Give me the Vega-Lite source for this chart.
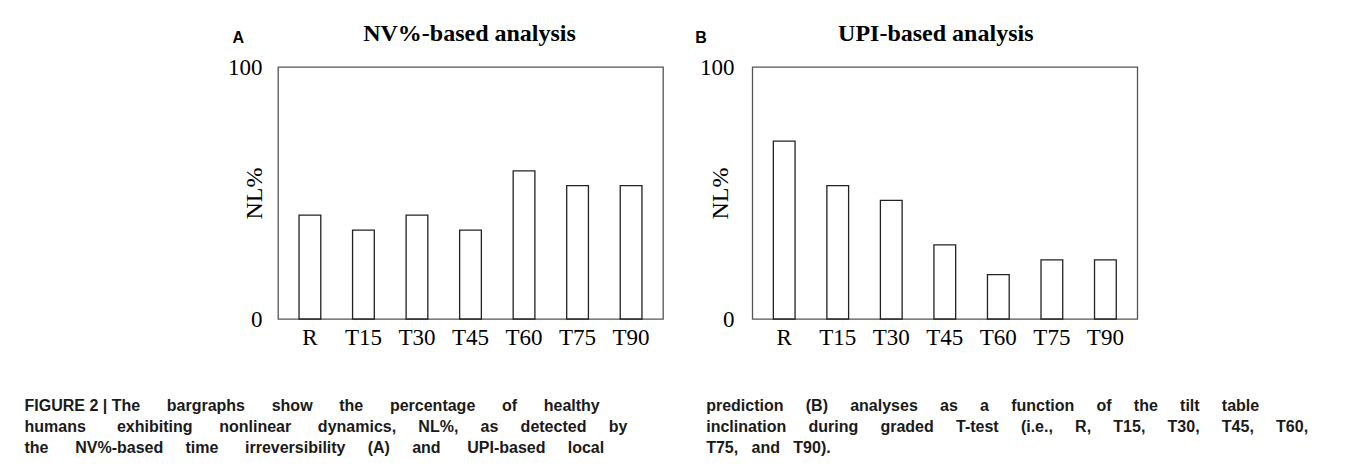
{
  "$schema": "https://vega.github.io/schema/vega-lite/v6.json",
  "padding": {"left": 23, "top": 20, "right": 5, "bottom": 5},
  "background": "white",
  "datasets": {
    "A": [
      {"stage": "R", "value": 41.2},
      {"stage": "T15", "value": 35.3},
      {"stage": "T30", "value": 41.2},
      {"stage": "T45", "value": 35.3},
      {"stage": "T60", "value": 58.8},
      {"stage": "T75", "value": 52.9},
      {"stage": "T90", "value": 52.9}
    ],
    "B": [
      {"stage": "R", "value": 70.6},
      {"stage": "T15", "value": 52.9},
      {"stage": "T30", "value": 47.1},
      {"stage": "T45", "value": 29.4},
      {"stage": "T60", "value": 17.6},
      {"stage": "T75", "value": 23.5},
      {"stage": "T90", "value": 23.5}
    ]
  },
  "spacing": 30.3,
  "hconcat": [
    {
      "width": 385,
      "height": 252,
      "data": {"name": "A"},
      "title": {"text": "A", "anchor": "start", "frame": "group", "dx": -45.5, "dy": 37.4, "offset": 0, "baseline": "alphabetic", "font": "Liberation Sans", "fontWeight": "bold", "fontSize": 16, "color": "black"},
      "layer": [
        {
          "mark": {"type": "bar", "fill": "white", "stroke": "#222", "strokeWidth": 1.3},
          "encoding": {
            "x": {"field": "stage", "type": "nominal", "sort": ["R", "T15", "T30", "T45", "T60", "T75", "T90"],
              "scale": {"paddingInner": 0.594, "paddingOuter": 0.393},
              "axis": {"orient": "bottom", "labelAngle": 0, "labelFont": "Liberation Serif", "labelFontSize": 23, "labelColor": "black", "labelPadding": 7, "ticks": false, "domain": false,
                "title": ["FIGURE 2 | The\u00a0\u00a0\u00a0\u00a0\u00a0\u00a0bargraphs\u00a0\u00a0\u00a0\u00a0\u00a0\u00a0show\u00a0\u00a0\u00a0\u00a0\u00a0\u00a0the\u00a0\u00a0\u00a0\u00a0\u00a0\u00a0percentage\u00a0\u00a0\u00a0\u00a0\u00a0\u00a0of\u00a0\u00a0\u00a0\u00a0\u00a0\u00a0healthy",
                  "humans\u00a0\u00a0\u00a0\u00a0\u00a0\u00a0\u00a0exhibiting\u00a0\u00a0\u00a0\u00a0\u00a0\u00a0nonlinear\u00a0\u00a0\u00a0\u00a0\u00a0\u00a0dynamics,\u00a0\u00a0\u00a0\u00a0\u00a0NL%,\u00a0\u00a0\u00a0\u00a0\u00a0as\u00a0\u00a0\u00a0\u00a0\u00a0detected\u00a0\u00a0\u00a0\u00a0\u00a0by",
                  "the\u00a0\u00a0\u00a0\u00a0\u00a0\u00a0NV%-based\u00a0\u00a0\u00a0\u00a0\u00a0time\u00a0\u00a0\u00a0\u00a0\u00a0\u00a0irreversibility\u00a0\u00a0\u00a0\u00a0\u00a0(A)\u00a0\u00a0\u00a0\u00a0\u00a0and\u00a0\u00a0\u00a0\u00a0\u00a0\u00a0UPI-based\u00a0\u00a0\u00a0\u00a0\u00a0local"],
                "titleX": -254, "titleY": 91.8, "titleAlign": "left", "titleAnchor": "start", "titleBaseline": "alphabetic", "titleAngle": 0,
                "titleFont": "Liberation Sans", "titleFontSize": 16, "titleFontWeight": "bold", "titleLineHeight": 20.7, "titleColor": "#1a1a1a"}
            },
            "y": {"field": "value", "type": "quantitative",
              "scale": {"domain": [0, 100], "nice": false},
              "axis": {"values": [0, 100], "grid": false, "ticks": false, "domain": false, "labelFlush": false, "labelPadding": 16,
                "labelFont": "Liberation Serif", "labelFontSize": 23, "labelColor": "black",
                "title": "NL%", "titleX": -17, "titleY": 126, "titleAngle": -90, "titleAlign": "center", "titleBaseline": "alphabetic",
                "titleFont": "Liberation Serif", "titleFontSize": 24, "titleFontWeight": "normal", "titleColor": "black"}
            }
          }
        },
        {
          "mark": {"type": "bar", "opacity": 0},
          "encoding": {
            "x": {"field": "stage", "type": "nominal", "sort": ["R", "T15", "T30", "T45", "T60", "T75", "T90"],
              "axis": {"orient": "top", "labels": false, "ticks": false, "domain": false,
                "title": "NV%-based analysis", "titleX": 191, "titleY": -26.6, "titleAlign": "center", "titleBaseline": "alphabetic",
                "titleFont": "Liberation Serif", "titleFontWeight": "bold", "titleFontSize": 24, "titleColor": "black"}
            }
          }
        }
      ],
      "resolve": {"axis": {"x": "independent"}}
    },
    {
      "width": 385,
      "height": 252,
      "data": {"name": "B"},
      "title": {"text": "B", "anchor": "start", "frame": "group", "dx": -57, "dy": 37.4, "offset": 0, "baseline": "alphabetic", "font": "Liberation Sans", "fontWeight": "bold", "fontSize": 16, "color": "black"},
      "layer": [
        {
          "mark": {"type": "bar", "fill": "white", "stroke": "#222", "strokeWidth": 1.3},
          "encoding": {
            "x": {"field": "stage", "type": "nominal", "sort": ["R", "T15", "T30", "T45", "T60", "T75", "T90"],
              "scale": {"paddingInner": 0.594, "paddingOuter": 0.393},
              "axis": {"orient": "bottom", "labelAngle": 0, "labelFont": "Liberation Serif", "labelFontSize": 23, "labelColor": "black", "labelPadding": 7, "ticks": false, "domain": false,
                "title": ["prediction\u00a0\u00a0\u00a0\u00a0\u00a0(B)\u00a0\u00a0\u00a0\u00a0\u00a0analyses\u00a0\u00a0\u00a0\u00a0\u00a0as\u00a0\u00a0\u00a0\u00a0\u00a0a\u00a0\u00a0\u00a0\u00a0\u00a0function\u00a0\u00a0\u00a0\u00a0\u00a0of\u00a0\u00a0\u00a0\u00a0\u00a0the\u00a0\u00a0\u00a0\u00a0\u00a0tilt\u00a0\u00a0\u00a0\u00a0\u00a0table",
                  "inclination\u00a0\u00a0\u00a0\u00a0\u00a0during\u00a0\u00a0\u00a0\u00a0\u00a0graded\u00a0\u00a0\u00a0\u00a0\u00a0T-test\u00a0\u00a0\u00a0\u00a0\u00a0(i.e.,\u00a0\u00a0\u00a0\u00a0\u00a0R,\u00a0\u00a0\u00a0\u00a0\u00a0T15,\u00a0\u00a0\u00a0\u00a0\u00a0T30,\u00a0\u00a0\u00a0\u00a0\u00a0T45,\u00a0\u00a0\u00a0\u00a0\u00a0T60,",
                  "T75,\u00a0\u00a0\u00a0and\u00a0\u00a0\u00a0T90)."],
                "titleX": -46.6, "titleY": 91.8, "titleAlign": "left", "titleAnchor": "start", "titleBaseline": "alphabetic", "titleAngle": 0,
                "titleFont": "Liberation Sans", "titleFontSize": 16, "titleFontWeight": "bold", "titleLineHeight": 20.7, "titleColor": "#1a1a1a"}
            },
            "y": {"field": "value", "type": "quantitative",
              "scale": {"domain": [0, 100], "nice": false},
              "axis": {"values": [0, 100], "grid": false, "ticks": false, "domain": false, "labelFlush": false, "labelPadding": 18.3,
                "labelFont": "Liberation Serif", "labelFontSize": 23, "labelColor": "black",
                "title": "NL%", "titleX": -24.5, "titleY": 126, "titleAngle": -90, "titleAlign": "center", "titleBaseline": "alphabetic",
                "titleFont": "Liberation Serif", "titleFontSize": 24, "titleFontWeight": "normal", "titleColor": "black"}
            }
          }
        },
        {
          "mark": {"type": "bar", "opacity": 0},
          "encoding": {
            "x": {"field": "stage", "type": "nominal", "sort": ["R", "T15", "T30", "T45", "T60", "T75", "T90"],
              "axis": {"orient": "top", "labels": false, "ticks": false, "domain": false,
                "title": "UPI-based analysis", "titleX": 183, "titleY": -26.6, "titleAlign": "center", "titleBaseline": "alphabetic",
                "titleFont": "Liberation Serif", "titleFontWeight": "bold", "titleFontSize": 24, "titleColor": "black"}
            }
          }
        }
      ],
      "resolve": {"axis": {"x": "independent"}}
    }
  ],
  "config": {
    "view": {"stroke": "#555", "strokeWidth": 1.3}
  }
}
